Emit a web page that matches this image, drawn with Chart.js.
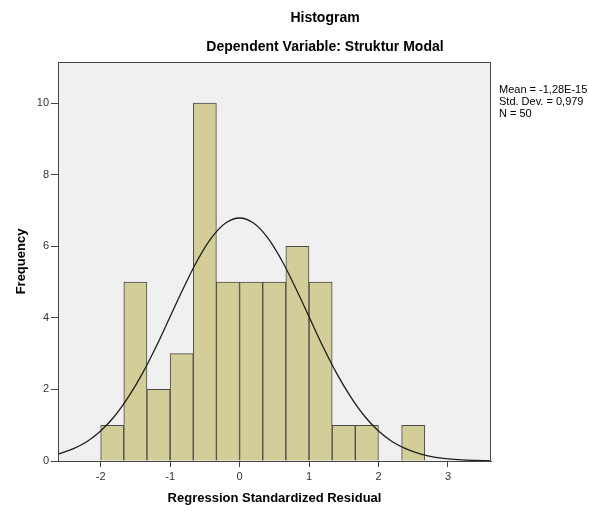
<!DOCTYPE html>
<html>
<head>
<meta charset="utf-8">
<script src="https://cdn.jsdelivr.net/npm/chart.js@4"></script>
<style>
    html, body { margin: 0; padding: 0; background: #fff; }
    #wrap { width: 589px; height: 511px; position: relative; }
</style>
</head>
<body>
<div id="wrap"><canvas id="histChart" width="589" height="511"></canvas></div>
<script>
// Histogram bins (center of each bin) and frequencies
const binCenters = [-1.833, -1.5, -1.167, -0.833, -0.5, -0.167, 0.167, 0.5, 0.833, 1.167, 1.5, 1.833, 2.167, 2.5];
const frequencies = [1, 5, 2, 3, 10, 5, 5, 5, 6, 5, 1, 1, 0, 1];

// Normal curve
const curveX = [-2.6, -2.4, -2.2, -2.0, -1.8, -1.6, -1.4, -1.2, -1.0, -0.8, -0.6, -0.4, -0.2, 0, 0.2, 0.4, 0.6, 0.8, 1.0, 1.2, 1.4, 1.6, 1.8, 2.0, 2.2, 2.4, 2.6, 2.8, 3.0, 3.2, 3.4, 3.6];
const curveY = [0.2, 0.34, 0.54, 0.84, 1.25, 1.79, 2.44, 3.2, 4.03, 4.86, 5.63, 6.25, 6.65, 6.79, 6.65, 6.25, 5.63, 4.86, 4.03, 3.2, 2.44, 1.79, 1.25, 0.84, 0.54, 0.34, 0.2, 0.11, 0.06, 0.03, 0.015, 0.007];

const xTicks = [-2, -1, 0, 1, 2, 3];
const yTicks = [0, 2, 4, 6, 8, 10];
const statLines = ['Mean = -1,28E-15', 'Std. Dev. = 0,979', 'N = 50'];

const FONT = '"Liberation Sans", Arial, sans-serif';

// plot background + frame + titles + stats box
const spssPlugin = {
    id: 'spss',
    beforeDraw(chart) {
        const { ctx, chartArea: a } = chart;
        ctx.save();
        ctx.fillStyle = '#f0f0f0';
        ctx.fillRect(a.left, a.top, a.right - a.left, a.bottom - a.top);
        ctx.restore();
    },
    afterDraw(chart) {
        const { ctx, chartArea: a } = chart;
        ctx.save();
        ctx.strokeStyle = '#444';
        ctx.lineWidth = 1;
        ctx.strokeRect(a.left + 0.5, a.top + 0.5, a.right - a.left - 1, a.bottom - a.top);

        ctx.fillStyle = '#000';
        ctx.textAlign = 'center';
        ctx.textBaseline = 'middle';
        ctx.font = 'bold 14px ' + FONT;
        ctx.fillText('Histogram', 325, 18);
        ctx.fillText('Dependent Variable: Struktur Modal', 325, 47);

        ctx.textAlign = 'left';
        ctx.font = '11px ' + FONT;
        statLines.forEach((s, i) => ctx.fillText(s, 499, 90 + i * 12));
        ctx.restore();
    }
};

new Chart(document.getElementById('histChart'), {
    type: 'bar',
    data: {
        datasets: [
            {
                type: 'line',
                data: curveX.map((x, i) => ({ x: x, y: curveY[i] })),
                borderColor: '#1e1e1e',
                borderWidth: 1.3,
                pointRadius: 0,
                tension: 0.4,
                fill: false,
                order: 0
            },
            {
                type: 'bar',
                data: binCenters.map((x, i) => ({ x: x, y: frequencies[i] })),
                backgroundColor: '#d3ce97',
                borderColor: '#4a4a4a',
                borderWidth: 1,
                borderSkipped: 'start',
                barPercentage: 1,
                categoryPercentage: 1,
                order: 1
            }
        ]
    },
    options: {
        responsive: false,
        animation: false,
        devicePixelRatio: 1,
        layout: { padding: { top: 62, right: 98, left: 0, bottom: 0 } },
        plugins: {
            legend: { display: false },
            tooltip: { enabled: false },
            title: { display: false }
        },
        scales: {
            x: {
                type: 'linear',
                min: -2.614,
                max: 3.62,
                offset: false,
                afterFit: (s) => { s.height = 50; },
                afterBuildTicks: (s) => { s.ticks = xTicks.map(v => ({ value: v })); },
                grid: { offset: false, drawOnChartArea: false, drawTicks: true, tickLength: 6, color: '#444' },
                border: { display: true, color: '#444' },
                ticks: { color: '#333', font: { family: FONT, size: 11 }, padding: 3 },
                title: {
                    display: true,
                    text: 'Regression Standardized Residual',
                    color: '#000',
                    font: { family: FONT, size: 13, weight: 'bold' },
                    padding: { top: 0, bottom: 5 }
                }
            },
            y: {
                type: 'linear',
                min: 0,
                max: 11.15,
                afterFit: (s) => { s.width = 58; },
                afterBuildTicks: (s) => { s.ticks = yTicks.map(v => ({ value: v })); },
                grid: { drawOnChartArea: false, drawTicks: true, tickLength: 7, color: '#444' },
                border: { display: true, color: '#444' },
                ticks: { color: '#333', font: { family: FONT, size: 11 }, padding: 2 },
                title: {
                    display: true,
                    text: 'Frequency',
                    color: '#000',
                    font: { family: FONT, size: 13, weight: 'bold' },
                    padding: { top: 14, bottom: 0 }
                }
            }
        }
    },
    plugins: [spssPlugin]
});
</script>
</body>
</html>
